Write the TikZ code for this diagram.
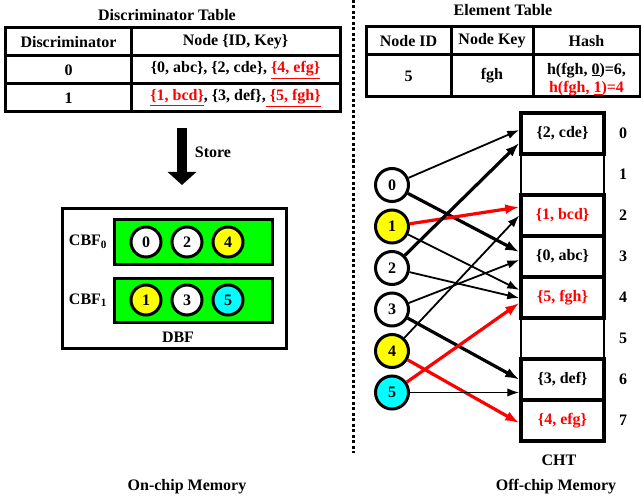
\documentclass[tikz,border=0pt]{standalone}
\usepackage{fontspec}
\setmainfont{Liberation Serif}
\usetikzlibrary{arrows.meta,calc}

\definecolor{aqua}{RGB}{0,255,255}
\definecolor{lime}{RGB}{0,255,0}
\definecolor{lemon}{RGB}{255,255,0}
\definecolor{hot}{RGB}{255,0,0}

\tikzset{
  lbl/.style={inner sep=0pt, font=\fontsize{16bp}{18.5bp}\selectfont\bfseries},
  cell/.style={lbl, draw, line width=3bp, align=center},
  slot/.style={lbl, draw, line width=3.5bp, minimum width=83bp, minimum height=41bp},
  key/.style={circle, draw, line width=3bp, minimum size=33bp, inner sep=0pt,
    font=\fontsize{16bp}{18bp}\selectfont\bfseries},
  member/.style={circle, draw, line width=3bp, minimum size=30bp, inner sep=0pt,
    font=\fontsize{16bp}{18bp}\selectfont\bfseries},
  filterbar/.style={draw, line width=3bp, fill=lime, minimum width=158bp, minimum height=44bp},
  thinarr/.style={line width=1.8bp, -{Latex[length=12bp,width=8.5bp]}},
  thickarr/.style={line width=3.2bp, -{Latex[length=14bp,width=10bp]}},
  redarr/.style={thickarr, hot},
}

\begin{document}
\begin{tikzpicture}[x=1bp, y=-1bp]
\useasboundingbox (0,0) rectangle (641,498);

% ---------- Discriminator table ----------
\node[lbl] (dtitle) at (167,15) {Discriminator Table};
\node[cell, minimum width=125bp, minimum height=28bp] (d11) at (68.5,42) {Discriminator};
\node[cell, minimum width=209bp, minimum height=28bp] (d12) at (235.5,42) {Node \{ID, Key\}};
\node[cell, minimum width=125bp, minimum height=28bp] (d21) at (68.5,70) {0};
\node[cell, minimum width=209bp, minimum height=28bp] (d22) at (235.5,70)
  {\{0, abc\}, \{2, cde\}, \textcolor{hot}{\underline{\{4, efg\}}}};
\node[cell, minimum width=125bp, minimum height=28bp] (d31) at (68.5,98) {1};
\node[cell, minimum width=209bp, minimum height=28bp] (d32) at (235.5,98)
  {\textcolor{hot}{\underline{\{1, bcd\}}}, \{3, def\},\textcolor{hot}{\underline{ \{5, fgh\}}}};

% ---------- Store arrow ----------
\coordinate (storetop) at (182,128);
\coordinate (storetip) at (182,185);
\draw[line width=10bp, -{Triangle[length=13bp,width=28bp]}] (storetop) -- (storetip);
\node[lbl] (store) at (213,152) {Store};

% ---------- DBF ----------
\node[draw, line width=3bp, minimum width=223bp, minimum height=139bp] (dbf) at (174.5,278.5) {};
\node[filterbar] (cbf0) at (193,242) {};
\node[filterbar] (cbf1) at (193,300) {};
\node[lbl] (cbf0lbl) at (88,242) {CBF\textsubscript{0}};
\node[lbl] (cbf1lbl) at (88,300) {CBF\textsubscript{1}};
\node[member, fill=white] (m0) at (146,242) {0};
\node[member, fill=white] (m2) at (187,242) {2};
\node[member, fill=lemon] (m4) at (228,242) {4};
\node[member, fill=lemon] (m1) at (146,300) {1};
\node[member, fill=white] (m3) at (187,300) {3};
\node[member, fill=aqua]  (m5) at (228,300) {5};
\node[lbl] (dbflbl) at (178,337) {DBF};

\node[lbl] (onchip) at (187,487) {On-chip Memory};

% ---------- Divider ----------
\coordinate (divtop) at (353,0);
\coordinate (divbot) at (353,453);
\draw[line width=3bp, dash pattern=on 3bp off 2.5bp] (divtop) -- (divbot);

% ---------- Element table ----------
\node[lbl] (etitle) at (503,10) {Element Table};
\node[cell, minimum width=85bp, minimum height=28bp]  (e11) at (408.5,41) {Node ID};
\node[cell, minimum width=82bp, minimum height=28bp]  (e12) at (492,41) {Node Key};
\node[cell, minimum width=107bp, minimum height=28bp] (e13) at (586.5,41) {Hash};
\node[cell, minimum width=85bp, minimum height=42bp]  (e21) at (408.5,76) {5};
\node[cell, minimum width=82bp, minimum height=42bp]  (e22) at (492,76) {fgh};
\node[cell, minimum width=107bp, minimum height=42bp] (e23) at (586.5,76) {};
\node[lbl, align=center] (hashtxt) at (586.5,79.5)
  {h(fgh, \underline{0})=6,\\\textcolor{hot}{h(fgh, \underline{1})=4}};

% ---------- CHT ----------
\node[draw, line width=1.5bp, minimum width=83bp, minimum height=328bp] (cht) at (562.5,277) {};
\node[slot] (r0) at (562.5,133.5) {\{2, cde\}};
\node[slot, text=hot] (r2) at (562.5,215.5) {\{1, bcd\}};
\node[slot] (r3) at (562.5,256.5) {\{0, abc\}};
\node[slot, text=hot] (r4) at (562.5,297.5) {\{5, fgh\}};
\node[slot] (r6) at (562.5,379.5) {\{3, def\}};
\node[slot, text=hot] (r7) at (562.5,420.5) {\{4, efg\}};
\foreach \i in {0,...,7}
  \node[lbl] (idx\i) at (623,133.5+41*\i) {\i};
\node[lbl] (chtlbl) at (559,460) {CHT};
\node[lbl] (offchip) at (556,487) {Off-chip Memory};

% ---------- Keys ----------
\node[key, fill=white] (c0) at (392,185)   {0};
\node[key, fill=lemon] (c1) at (392,226.5) {1};
\node[key, fill=white] (c2) at (392,268)   {2};
\node[key, fill=white] (c3) at (392,309.5) {3};
\node[key, fill=lemon] (c4) at (392,351)   {4};
\node[key, fill=aqua]  (c5) at (392,392.5) {5};

% ---------- Hash mappings ----------
\draw[thinarr]  (c0) -- ($(r0.west)+(0,-3.5)$);
\draw[thickarr] (c0) -- ($(r3.west)+(0,-4.5)$);
\draw[redarr]   (c1) -- ($(r2.west)+(0,-8.5)$);
\draw[thinarr]  (c1) -- ($(r4.west)+(0,-7.5)$);
\draw[thickarr] (c2) -- ($(r0.west)+(0,9.5)$);
\draw[thinarr]  (c2) -- ($(r4.west)+(0,0.5)$);
\draw[thinarr]  (c3) -- ($(r3.west)+(0,3.5)$);
\draw[thickarr] (c3) -- ($(r6.west)+(0,0)$);
\draw[thinarr]  (c4) -- ($(r2.west)+(0,0)$);
\draw[redarr]   (c4) -- ($(r7.west)+(0,2.5)$);
\draw[redarr]   (c5) -- ($(r4.west)+(0,5.5)$);
\draw[thinarr]  (c5) -- ($(r6.west)+(0,13)$);
\end{tikzpicture}
\end{document}
